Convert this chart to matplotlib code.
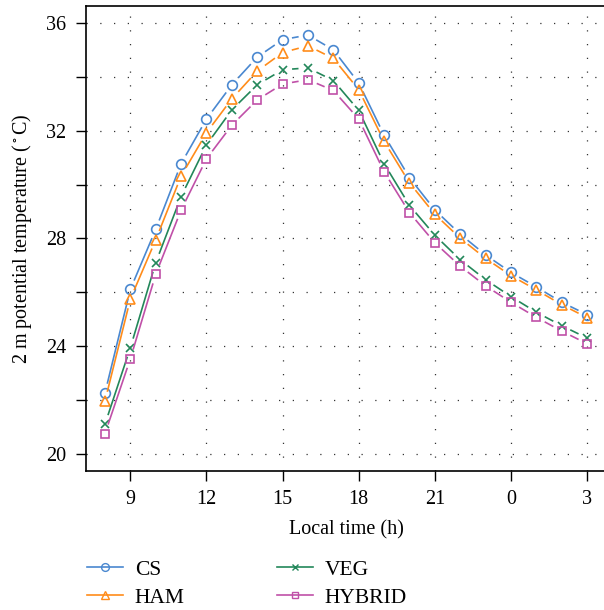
import numpy as np
import matplotlib
matplotlib.use("Agg")
import matplotlib.pyplot as plt
from matplotlib.lines import Line2D
from matplotlib.ticker import FixedLocator, FuncFormatter

plt.rcParams['font.family'] = ['Liberation Serif', 'DejaVu Serif']
plt.rcParams['mathtext.fontset'] = 'stix'

# hours since start (8 .. 27, i.e. 8h to 3h next day)
hours = np.arange(8, 28)
xtick_pos = [9, 12, 15, 18, 21, 24, 27]
xtick_labels = ['9', '12', '15', '18', '21', '0', '3']

cs = [22.26, 26.11, 28.34, 30.78, 32.44, 33.71, 34.74, 35.39, 35.56, 35.01,
      33.78, 31.84, 30.26, 29.06, 28.16, 27.39, 26.74, 26.20, 25.63, 25.17]
ham = [21.96, 25.75, 27.95, 30.32, 31.93, 33.19, 34.22, 34.91, 35.16, 34.69,
       33.53, 31.61, 30.07, 28.90, 28.01, 27.26, 26.62, 26.09, 25.54, 25.06]
veg = [21.10, 23.94, 27.10, 29.56, 31.48, 32.78, 33.71, 34.27, 34.34, 33.87,
       32.76, 30.78, 29.23, 28.12, 27.21, 26.47, 25.84, 25.26, 24.76, 24.30]
hybrid = [20.75, 23.53, 26.67, 29.06, 30.96, 32.21, 33.15, 33.74, 33.90, 33.50,
          32.44, 30.48, 28.96, 27.84, 26.97, 26.24, 25.63, 25.07, 24.56, 24.09]

series = [
    ('CS', cs, '#4a88d0', 'o', 7.0),
    ('HAM', ham, '#ff8c1a', '^', 7.5),
    ('VEG', veg, '#23875a', 'x', 5.5),
    ('HYBRID', hybrid, '#c050a8', 's', 5.5),
]

fig = plt.figure(figsize=(6.04, 6.10), dpi=100)
ax = fig.add_axes([0.1419, 0.2279, 0.862, 0.7623])
ax.set_xlim(7.24, 27.76)
ax.set_ylim(19.36, 36.64)

# grid
ax.xaxis.set_major_locator(FixedLocator(xtick_pos))
ax.set_xticklabels(xtick_labels)
ax.yaxis.set_major_locator(FixedLocator(np.arange(20, 37, 2)))
ax.yaxis.set_major_formatter(FuncFormatter(lambda v, p: f'{v:.0f}' if round(v) % 4 == 0 else ''))
ax.grid(True, color='#333333', linestyle=(0, (1, 10)), linewidth=0.9)

ax.tick_params(direction='out', length=7, width=1, labelsize=14.5, pad=7)
for s in ax.spines.values():
    s.set_linewidth(1.2)

# R "type = b" style: segments with gaps around the points
gap = 9.5
inv = ax.transData.inverted()
for name, vals, col, mk, ms in series:
    pts = ax.transData.transform(np.column_stack([hours, vals]))
    for p0, p1 in zip(pts[:-1], pts[1:]):
        d = p1 - p0
        L = np.hypot(*d)
        if L <= 2 * gap:
            continue
        a = inv.transform(p0 + d / L * gap)
        b = inv.transform(p1 - d / L * gap)
        ax.plot([a[0], b[0]], [a[1], b[1]], color=col, lw=1.2, solid_capstyle='butt')
    ax.plot(hours, vals, linestyle='none', marker=mk, ms=ms, mfc='none',
            mec=col, mew=1.2)

ax.set_xlabel('Local time (h)', fontsize=14.5, labelpad=8)
ax.set_ylabel(r'2 m potential temperature ($^\circ$C)', fontsize=14.5, labelpad=9)

handles = [Line2D([], [], color=col, marker=mk, ms=ms * 0.8, mfc='none', mew=1.0, lw=1.2)
           for name, vals, col, mk, ms in series]
fig.legend(handles, [s[0] for s in series], loc='upper left',
           bbox_to_anchor=(0.130, 0.097), ncol=2, frameon=False, fontsize=15.5,
           handlelength=1.65, columnspacing=4.3, labelspacing=0.38, handletextpad=0.56,
           borderaxespad=0)

fig.savefig('out.png', dpi=100)
